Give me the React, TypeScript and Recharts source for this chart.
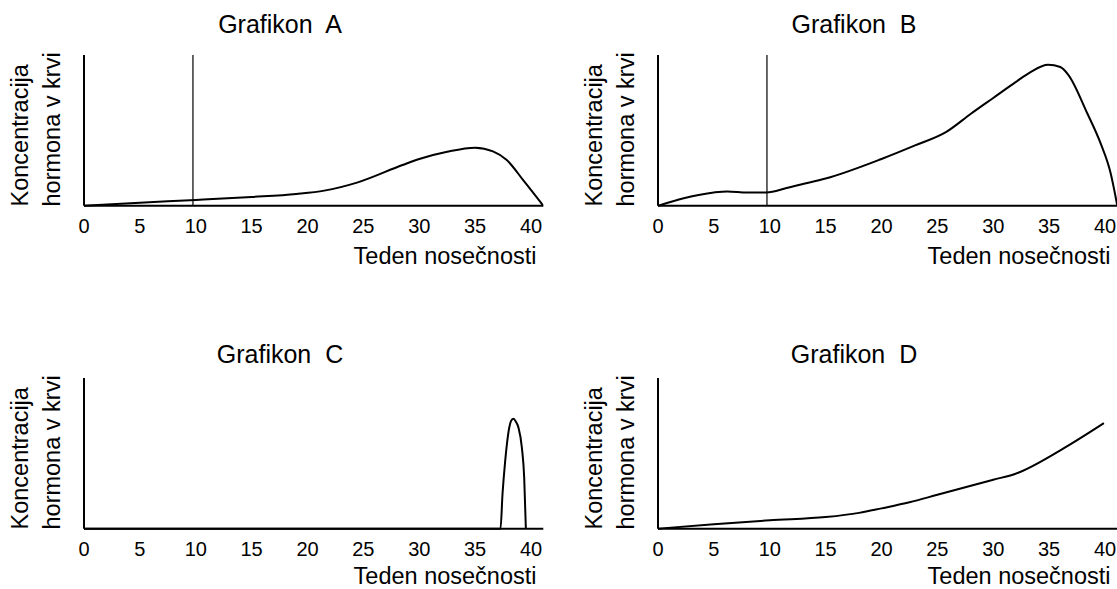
import React from 'react';
import { LineChart, Line, XAxis, YAxis, ReferenceLine } from 'recharts';

// weeks of pregnancy on the x axis, hormone level (0-100, arbitrary) on y
const WEEK_TICKS = [0, 5, 10, 15, 20, 25, 30, 35, 40];
const WEEK_MAX = 41.1;
const MARK_WEEK = 9.75;

const weeksA = [0, 5, 10, 15, 19, 21.5, 24.5, 28.5, 30, 32.5, 35, 36.6, 37.8, 39.3, 41.1];
const levelsA = [0, 2, 3.8, 5.8, 7.8, 10, 15.5, 27, 31, 35.8, 38.5, 36, 30.5, 17, 0];

const weeksB = [0, 2.3, 5, 6.2, 8, 9.7, 11.5, 12.7, 15, 20, 23, 25.8, 28, 30, 32, 33.3, 34.9, 36, 36.7, 38.4, 39.6, 40.5, 41.1];
const levelsB = [0, 5, 8.8, 9.5, 8.8, 8.8, 11.7, 13.9, 18, 31, 40, 49, 61, 71.5, 82, 88.5, 93.5, 92, 87, 61.5, 41.5, 21.7, 0];

const weeksC = [0, 37.27, 37.45, 37.69, 38.05, 38.25, 38.43, 38.65, 38.88, 39.18, 39.39, 39.54];
const levelsC = [0, 0, 23, 45, 67, 72, 73, 71, 67, 54, 34, 0];

const weeksD = [0, 5, 10, 15, 18, 20, 22.5, 25, 28, 30, 32, 36, 39.9];
const levelsD = [0, 3, 5.6, 7.7, 10.5, 13.5, 17.5, 22.5, 28.5, 32.5, 36.5, 52, 70];

const FONT = '"Liberation Sans", Arial, sans-serif';

interface PanelProps {
  left: number;
  top: number;
  title: string;
  titleY: number;
  xLabelY: number;
  weeks: number[];
  levels: number[];
  mark?: boolean;
}

const Panel = ({ left, top, title, titleY, xLabelY, weeks, levels, mark }: PanelProps) => {
  const data = weeks.map((w, i) => ({ week: w, level: levels[i] }));
  return (
    <div style={{ position: 'absolute', left, top, width: 560, height: 300 }}>
      <LineChart width={560} height={300} data={data} margin={{ top: 55, right: 16.7, bottom: 64.3, left: 74 }}>
        <XAxis
          dataKey="week"
          type="number"
          domain={[0, WEEK_MAX]}
          ticks={WEEK_TICKS}
          interval={0}
          allowDataOverflow
          height={30}
          tickLine={false}
          tickMargin={7.4}
          axisLine={{ stroke: '#000', strokeWidth: 2 }}
          tick={{ fill: '#000', fontSize: 20, fontFamily: FONT }}
        />
        <YAxis type="number" domain={[0, 100]} width={10} tick={false} tickLine={false} axisLine={{ stroke: '#000', strokeWidth: 2 }} />
        {mark && <ReferenceLine x={MARK_WEEK} stroke="#000" strokeWidth={1.2} />}
        <Line type="monotone" dataKey="level" stroke="#000" strokeWidth={2} dot={false} activeDot={false} isAnimationActive={false} />
      </LineChart>
      <svg width={560} height={300} style={{ position: 'absolute', left: 0, top: 0, pointerEvents: 'none' }} fontFamily={FONT} fill="#000">
        <text x={280} y={titleY} fontSize={25} textAnchor="middle" style={{ whiteSpace: 'pre' }}>{title}</text>
        <text transform="translate(28,206.5) rotate(-90)" fontSize={23.5}>Koncentracija</text>
        <text transform="translate(60,206.5) rotate(-90)" fontSize={23.5}>hormona v krvi</text>
        <text x={536.5} y={xLabelY} fontSize={23.5} textAnchor="end">Teden nosečnosti</text>
      </svg>
    </div>
  );
};

export default function App() {
  return (
    <div style={{ position: 'absolute', left: 0, top: 0, width: 1117, height: 589, overflow: 'hidden', background: '#fff' }}>
      <Panel left={0} top={0} title="Grafikon  A" titleY={32.7} xLabelY={263.5} weeks={weeksA} levels={levelsA} mark />
      <Panel left={574} top={0} title="Grafikon  B" titleY={32.7} xLabelY={263.5} weeks={weeksB} levels={levelsB} mark />
      <Panel left={0} top={322.6} title="Grafikon  C" titleY={40.1} xLabelY={260.9} weeks={weeksC} levels={levelsC} />
      <Panel left={574} top={322.6} title="Grafikon  D" titleY={40.1} xLabelY={260.9} weeks={weeksD} levels={levelsD} />
    </div>
  );
}
